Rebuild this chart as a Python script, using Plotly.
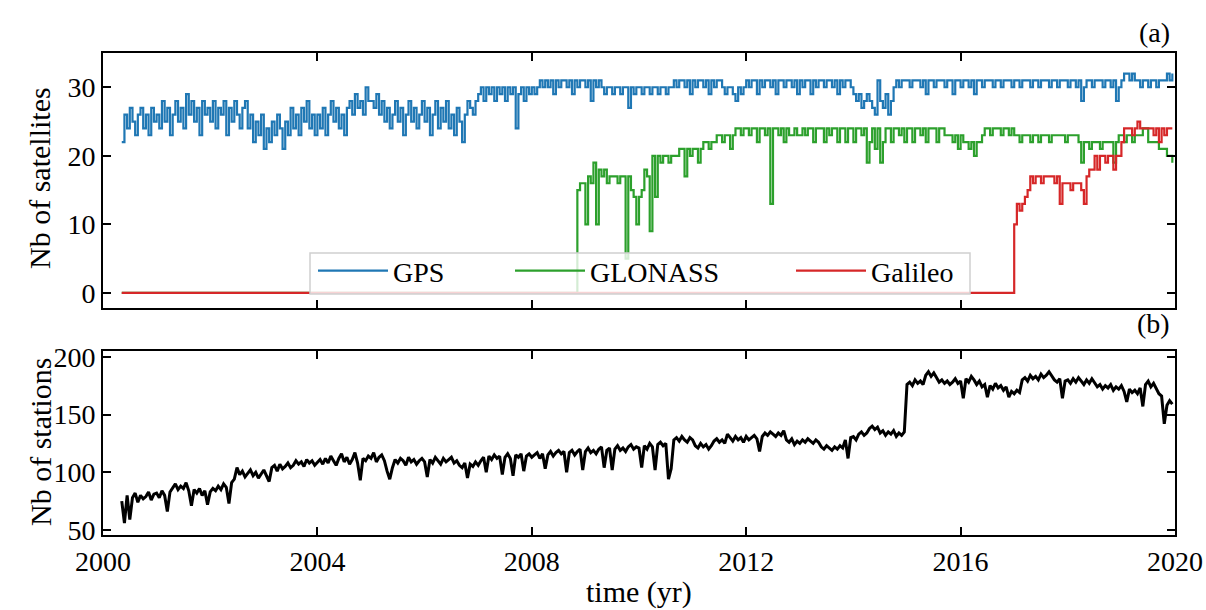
import plotly.graph_objects as go

# ---- time grid of the daily-ish series (start year and sampling step, yr) ----
T0 = 2000.35
DT = 0.05

# ---- number of GPS satellites tracked ----
gps = [
    # 2000.35 - 2000.95
    22, 26, 24, 27, 25, 23, 26, 27, 24, 26, 23, 27, 25,
    # 2001
    26, 24, 28, 25, 27, 23, 26, 28, 25, 27, 24, 29, 26, 28, 25, 27, 23, 28, 26, 27,
    # 2002
    25, 28, 24, 27, 26, 28, 23, 27, 25, 28, 26, 24, 27, 28, 24, 26, 22, 25, 23, 26,
    # 2003
    21, 24, 22, 25, 23, 26, 24, 21, 25, 23, 27, 24, 26, 23, 27, 25, 28, 24, 26, 23,
    # 2004
    26, 24, 27, 23, 26, 28, 25, 27, 24, 26, 23, 27, 28, 26, 29, 27, 28, 26, 30, 28,
    # 2005
    28, 27, 29, 26, 28, 25, 27, 24, 26, 28, 25, 27, 23, 26, 28, 25, 27, 24, 26, 28,
    # 2006
    25, 27, 23, 26, 28, 24, 27, 25, 28, 24, 26, 23, 27, 25, 22, 26, 28, 27, 26, 28,
    # 2007
    29, 30, 28, 30, 29, 30, 28, 30, 29, 30, 28, 30, 29, 30, 24, 29, 30, 28, 30, 29,
    # 2008
    30, 29, 30, 31, 30, 31, 30, 31, 29, 31, 30, 31, 31, 30, 31, 29, 31, 30, 31, 31,
    # 2009
    30, 31, 28, 31, 30, 31, 30, 29, 30, 30, 29, 30, 30, 29, 30, 30, 27, 30, 29, 30,
    # 2010
    30, 29, 30, 30, 29, 30, 30, 29, 30, 30, 29, 30, 30, 31, 30, 31, 31, 30, 31, 29,
    # 2011
    31, 30, 31, 31, 30, 31, 29, 31, 30, 31, 31, 30, 29, 30, 30, 29, 28, 30, 29, 30,
    # 2012
    31, 30, 31, 31, 29, 31, 30, 31, 31, 30, 31, 29, 31, 31, 30, 31, 31, 30, 31, 29,
    # 2013
    31, 30, 31, 31, 29, 31, 30, 31, 31, 30, 31, 31, 30, 31, 29, 31, 30, 31, 31, 30,
    # 2014
    29, 28, 29, 27, 28, 29, 28, 27, 26, 31, 28, 27, 29, 26, 28, 30, 31, 30, 31, 31,
    # 2015
    31, 30, 31, 31, 31, 30, 31, 29, 31, 31, 30, 31, 31, 31, 30, 31, 31, 29, 31, 31,
    # 2016
    30, 31, 31, 30, 31, 29, 31, 31, 30, 31, 31, 31, 30, 31, 31, 30, 31, 31, 31, 30,
    # 2017
    31, 31, 30, 31, 31, 31, 30, 31, 31, 30, 31, 31, 31, 30, 31, 31, 30, 31, 31, 31,
    # 2018
    30, 31, 31, 30, 31, 28, 30, 31, 31, 30, 31, 31, 31, 30, 31, 31, 30, 31, 28, 30,
    # 2019
    31, 32, 32, 31, 32, 31, 31, 30, 31, 31, 30, 31, 31, 30, 31, 31, 31, 32, 31, 32,
]

# ---- number of GLONASS satellites tracked ----
glonass = [0] * 153 + [
    # 2008
    0, 0, 0, 0, 0, 0, 0, 0, 0, 0, 0, 0, 0, 0, 0, 0, 0, 15, 16, 16,
    # 2009
    10, 17, 16, 19, 10, 18, 17, 18, 16, 17, 17, 17, 16, 17, 17, 5, 17, 15, 14, 10,
    # 2010
    14, 15, 18, 17, 9, 20, 14, 20, 19, 20, 20, 19, 20, 20, 20, 21, 21, 17, 21, 20,
    # 2011
    21, 21, 19, 21, 22, 22, 21, 22, 22, 23, 23, 22, 23, 23, 21, 23, 24, 24, 23, 24,
    # 2012
    24, 23, 24, 24, 22, 24, 24, 23, 24, 13, 24, 24, 23, 24, 22, 24, 23, 23, 24, 23,
    # 2013
    23, 24, 23, 24, 24, 22, 24, 24, 24, 22, 24, 23, 24, 24, 22, 24, 24, 22, 24, 24,
    # 2014
    22, 24, 24, 23, 24, 19, 22, 24, 21, 24, 19, 22, 24, 24, 22, 24, 24, 23, 24, 22,
    # 2015
    24, 24, 22, 24, 24, 23, 24, 22, 24, 24, 24, 22, 24, 24, 23, 23, 23, 22, 23, 21,
    # 2016
    23, 22, 22, 21, 22, 20, 22, 22, 23, 24, 24, 23, 24, 24, 24, 23, 24, 24, 23, 24,
    # 2017
    23, 23, 22, 23, 23, 23, 22, 23, 23, 22, 23, 23, 23, 22, 23, 23, 23, 23, 23, 22,
    # 2018
    23, 23, 23, 23, 22, 19, 22, 22, 21, 22, 22, 22, 21, 22, 22, 22, 22, 19, 22, 23,
    # 2019
    23, 22, 23, 23, 22, 23, 23, 23, 24, 24, 22, 22, 22, 22, 21, 21, 21, 20, 20, 19,
]

# ---- number of Galileo satellites tracked (none before 2017) ----
galileo = [0] * 333 + [
    # 2017
    10, 13, 12, 13, 14, 15, 17, 16, 17, 17, 16, 17, 17, 17, 17, 16, 17, 13, 16, 16,
    # 2018
    16, 15, 16, 16, 16, 15, 13, 17, 18, 18, 20, 18, 20, 20, 19, 20, 20, 18, 20, 20,
    # 2019
    22, 24, 24, 24, 23, 24, 25, 24, 24, 24, 24, 24, 23, 24, 22, 24, 23, 24, 24, 24,
]

# ---- number of stations ----
stations = [
    # 2000.35 - 2000.95
    75, 56, 80, 59, 78, 82, 74, 80, 77, 79, 83, 76, 81,
    # 2001
    82, 78, 84, 80, 66, 83, 87, 90, 85, 88, 86, 91, 84, 71, 85, 82, 86, 80, 84, 72,
    # 2002
    83, 86, 84, 88, 85, 90, 87, 73, 91, 94, 104, 98, 101, 96, 99, 102, 97, 100, 95, 99,
    # 2003
    102, 97, 92, 104, 106, 101, 107, 103, 105, 108, 104, 106, 110, 107, 109, 105, 111, 108, 110, 106,
    # 2004
    109, 111, 107, 112, 108, 114, 110, 106, 112, 116, 109, 113, 107, 111, 117, 108, 93, 112, 110, 114,
    # 2005
    112, 117, 109, 113, 115, 110, 101, 94, 104, 111, 108, 112, 110, 106, 113, 109, 111, 107, 110, 112,
    # 2006
    109, 96, 111, 108, 113, 110, 107, 112, 109, 111, 113, 108, 110, 106, 104, 108, 95, 107, 105, 109,
    # 2007
    106, 110, 113, 100, 114, 111, 115, 112, 114, 98, 113, 116, 112, 97, 115, 113, 116, 101, 114, 116,
    # 2008
    113, 115, 117, 112, 116, 103, 115, 118, 114, 117, 119, 116, 118, 100, 117, 119, 115, 118, 120, 102,
    # 2009
    118, 121, 117, 119, 116, 120, 122, 104, 119, 121, 102, 120, 123, 119, 121, 118, 122, 124, 120, 122,
    # 2010
    121, 104, 123, 120, 125, 122, 102, 124, 126, 123, 125, 94, 103, 128, 130, 127, 131, 128, 126, 130,
    # 2011
    128, 123, 121, 125, 122, 124, 120, 123, 127, 129, 126, 128, 125, 133, 130, 127, 131, 128, 130, 126,
    # 2012
    131, 128, 130, 132, 129, 118, 131, 134, 132, 135, 133, 131, 134, 132, 136, 128, 126, 129, 124, 127,
    # 2013
    125, 128, 126, 129, 127, 125, 128, 126, 122, 120, 123, 121, 119, 122, 120, 123, 121, 128, 112, 130,
    # 2014
    131, 128, 133, 135, 132, 134, 138, 140, 137, 139, 134, 136, 132, 135, 133, 136, 131, 134, 132, 135,
    # 2015
    176, 178, 175, 180, 177, 179, 176, 184, 187, 183, 186, 182, 178, 180, 177, 179, 176, 178, 181, 177,
    # 2016
    179, 164, 181, 178, 183, 180, 176, 179, 174, 176, 165, 175, 172, 177, 173, 175, 171, 174, 165, 170,
    # 2017
    168, 171, 169, 180, 182, 179, 184, 181, 183, 180, 185, 182, 184, 187, 183, 180, 178, 181, 164, 179,
    # 2018
    180, 177, 181, 178, 182, 179, 176, 180, 177, 181, 178, 174, 176, 172, 175, 173, 176, 171, 174, 172,
    # 2019
    175, 170, 161, 172, 169, 171, 168, 173, 157, 176, 179, 174, 177, 173, 168, 166, 142, 158, 162, 159,
]

x_ticks = [2000, 2004, 2008, 2012, 2016, 2020]
sat_ticks = [0, 10, 20, 30]
sta_ticks = [50, 100, 150, 200]


def times(values):
    return [round(T0 + DT * i, 4) for i in range(len(values))]


FONT = "Liberation Serif"
FS = 28
FT = 30
W, H = 1206, 610


def px(xp):
    return xp / W


def py(yp):
    return 1 - yp / H


fig = go.Figure()
fig.add_trace(go.Scatter(x=times(gps), y=gps, name="GPS", mode="lines",
                         line=dict(color="#1f77b4", width=2.2, shape="hv"),
                         legend="legend", xaxis="x", yaxis="y"))
fig.add_trace(go.Scatter(x=times(glonass), y=glonass, name="GLONASS", mode="lines",
                         line=dict(color="#2ca02c", width=2.2, shape="hv"),
                         legend="legend2", xaxis="x", yaxis="y"))
fig.add_trace(go.Scatter(x=times(galileo), y=galileo, name="Galileo", mode="lines",
                         line=dict(color="#d62728", width=2.2, shape="hv"),
                         legend="legend3", xaxis="x", yaxis="y"))
fig.add_trace(go.Scatter(x=times(stations), y=stations, name="stations", mode="lines",
                         line=dict(color="black", width=3),
                         showlegend=False, xaxis="x2", yaxis="y2"))

axis_common = dict(showline=True, linecolor="black", linewidth=2, mirror="ticks",
                   ticks="inside", ticklen=8, tickwidth=2, tickcolor="black",
                   showgrid=False, zeroline=False, automargin=False,
                   tickfont=dict(family=FONT, size=FS, color="black"))

legend_common = dict(orientation="h", xanchor="left", yanchor="top",
                     bgcolor="rgba(0,0,0,0)", borderwidth=0,
                     font=dict(family=FONT, size=FS), itemwidth=70)

XD = [px(103), px(1175)]
fig.update_layout(
    width=W, height=H,
    margin=dict(l=0, r=0, t=0, b=0, autoexpand=False),
    paper_bgcolor="white", plot_bgcolor="white",
    font=dict(family=FONT, size=FS, color="black"),
    xaxis=dict(domain=XD, range=[2000, 2020], tickvals=x_ticks,
               showticklabels=False, anchor="y", **axis_common),
    yaxis=dict(domain=[py(308), py(53)], range=[-2.2, 35],
               tickvals=sat_ticks, anchor="x", **axis_common),
    xaxis2=dict(domain=XD, range=[2000, 2020], tickvals=x_ticks,
                anchor="y2", **axis_common),
    yaxis2=dict(domain=[py(535), py(351)], range=[45.7, 205],
                tickvals=sta_ticks, anchor="x2", **axis_common),
    legend=dict(x=px(313), y=py(246), **legend_common),
    legend2=dict(x=px(510), y=py(246), **legend_common),
    legend3=dict(x=px(791), y=py(246), **legend_common),
    shapes=[
        dict(type="rect", xref="paper", yref="paper",
             x0=px(310), x1=px(970), y0=py(294), y1=py(253),
             fillcolor="rgba(255,255,255,0.8)",
             line=dict(color="#d0d0d0", width=1.5), layer="above"),
    ],
    annotations=[
        dict(text="Nb of satellites", x=px(40), y=py(178), xref="paper",
             yref="paper", textangle=-90, showarrow=False,
             xanchor="center", yanchor="middle",
             font=dict(family=FONT, size=FT)),
        dict(text="Nb of stations", x=px(40), y=py(442), xref="paper",
             yref="paper", textangle=-90, showarrow=False,
             xanchor="center", yanchor="middle",
             font=dict(family=FONT, size=FT)),
        dict(text="time (yr)", x=px(639), y=py(592), xref="paper",
             yref="paper", showarrow=False, xanchor="center", yanchor="middle",
             font=dict(family=FONT, size=FT)),
        dict(text="(a)", x=px(1172), y=py(32), xref="paper", yref="paper",
             xanchor="right", yanchor="middle", showarrow=False,
             font=dict(family=FONT, size=FS)),
        dict(text="(b)", x=px(1172), y=py(323), xref="paper", yref="paper",
             xanchor="right", yanchor="middle", showarrow=False,
             font=dict(family=FONT, size=FS)),
    ],
)

fig.write_html("out.html", config={"displayModeBar": False},
               post_script="document.body.style.margin='0px';")
